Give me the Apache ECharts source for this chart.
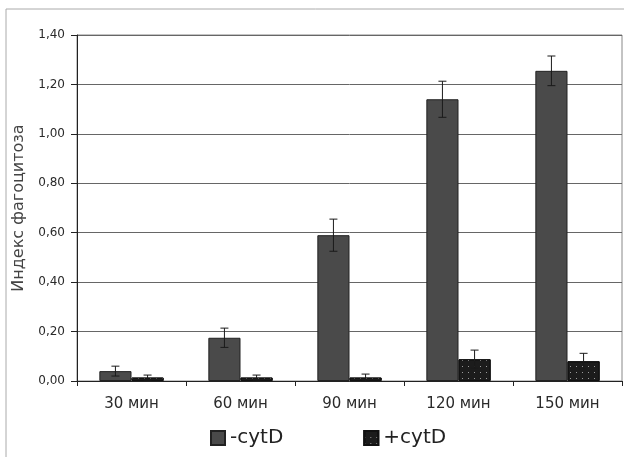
<!DOCTYPE html>
<html><head><meta charset="utf-8">
<script src="https://cdn.jsdelivr.net/npm/echarts@6/dist/echarts.min.js"></script>
<style>html,body{margin:0;padding:0;background:#fff}#c{width:624px;height:457px}</style>
</head><body><div id="c"></div>
<script>
var categories = ['30 мин', '60 мин', '90 мин', '120 мин', '150 мин'];
var minusCytD = [0.04, 0.175, 0.59, 1.14, 1.255];
var minusErr = [0.02, 0.039, 0.065, 0.073, 0.06];
var plusCytD = [0.014, 0.014, 0.014, 0.088, 0.08];
var plusErr = [0.01, 0.01, 0.014, 0.037, 0.032];
var yTicks = [0, 0.2, 0.4, 0.6, 0.8, 1.0, 1.2, 1.4];
var seriesNames = ['-cytD', '+cytD'];
var yName = 'Индекс фагоцитоза';

var chart = echarts.init(document.getElementById('c'));
function errItem(vals, errs, sign) {
  return function (params, api) {
    var i = api.value(0);
    var v = vals[i], e = errs[i];
    var band = api.size([1, 0])[0];
    var c = api.coord([i, v]);
    var x = c[0] + sign * band * 0.1475;
    var top = api.coord([i, v + e])[1];
    var bot = api.coord([i, v - e])[1];
    var cap = 4;
    var st = {stroke: '#1a1a1a', lineWidth: 1};
    return {type: 'group', children: [
      {type: 'line', shape: {x1: x, y1: top, x2: x, y2: bot}, style: st},
      {type: 'line', shape: {x1: x - cap, y1: top, x2: x + cap, y2: top}, style: st},
      {type: 'line', shape: {x1: x - cap, y1: bot, x2: x + cap, y2: bot}, style: st}
    ]};
  };
}
var idx = categories.map(function (c, i) { return [i]; });
chart.setOption({
  animation: false,
  textStyle: {fontFamily: 'DejaVu Sans, sans-serif'},
  graphic: [{type: 'rect', shape: {x: 6, y: 9, width: 700, height: 500},
    style: {fill: 'none', stroke: '#aaa', lineWidth: 1}, z: -1}],
  grid: {left: 77, right: 2, top: 35, bottom: 76, show: true, borderColor: '#888', borderWidth: 1},
  legend: {left: 205, top: 423, itemWidth: 14, itemHeight: 14, itemGap: 80,
    icon: 'rect', textStyle: {fontSize: 20, color: '#222', fontFamily: 'DejaVu Sans'}, data: seriesNames},
  xAxis: {type: 'category', data: categories,
    axisLine: {lineStyle: {color: '#222'}},
    axisTick: {show: true, length: 5, lineStyle: {color: '#222'}},
    axisLabel: {fontSize: 15, color: '#2a2a2a', margin: 16, fontFamily: 'DejaVu Sans'}},
  yAxis: {type: 'value', min: 0, max: 1.4, interval: 0.2,
    name: yName, nameLocation: 'middle', nameGap: 50, nameRotate: 90,
    nameTextStyle: {fontSize: 16, color: '#444', fontFamily: 'DejaVu Sans'},
    axisLine: {show: true, lineStyle: {color: '#222'}},
    axisTick: {show: true, length: 6, lineStyle: {color: '#222'}},
    splitLine: {lineStyle: {color: '#666'}},
    axisLabel: {fontSize: 12, color: '#2a2a2a', margin: 12, fontFamily: 'DejaVu Sans',
      formatter: function (v) { return v.toFixed(2).replace('.', ','); }}},
  series: [
    {name: seriesNames[0], type: 'bar', data: minusCytD, barGap: '0%', barCategoryGap: '41%',
      itemStyle: {color: '#4a4a4a', borderColor: '#222', borderWidth: 1}},
    {name: seriesNames[1], type: 'bar', data: plusCytD,
      itemStyle: {color: '#1c1c1c', borderColor: '#111', borderWidth: 1,
        decal: {symbol: 'rect', symbolSize: 1, color: '#9a9a9a', dashArrayX: [1, 5], dashArrayY: [1, 5], rotation: 0}}},
    {type: 'custom', data: idx, renderItem: errItem(minusCytD, minusErr, -1), z: 5, silent: true},
    {type: 'custom', data: idx, renderItem: errItem(plusCytD, plusErr, 1), z: 5, silent: true}
  ]
});
</script></body></html>
